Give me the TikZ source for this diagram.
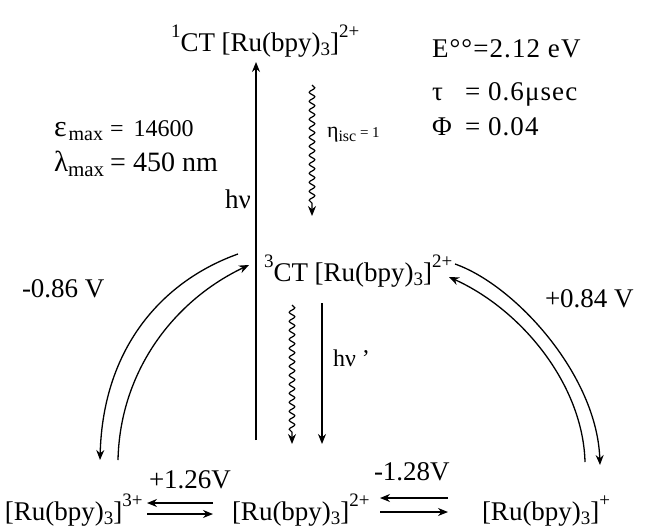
\documentclass[tikz,border=0pt]{standalone}
\usepackage{fontspec}
\setmainfont{Liberation Serif}
\usetikzlibrary{arrows.meta,decorations.pathmorphing}
\newcommand\dnx[1]{\raisebox{-0.4ex}{\fontsize{19}{19}\selectfont #1}}
\newcommand\upx[1]{\raisebox{1.05ex}{\fontsize{19}{19}\selectfont #1}}
\newcommand\subx[2]{\raisebox{-0.45ex}{\fontsize{#1}{#1}\selectfont #2}}
\newcommand\symx[2]{{\fontsize{#1}{#1}\selectfont #2}}
\begin{document}
\begin{tikzpicture}[x=1pt,y=-1pt,
  every node/.style={inner sep=0pt,outer sep=0pt},
  big/.style={font=\fontsize{27}{30}\selectfont,anchor=base west},
  mid/.style={font=\fontsize{27}{28}\selectfont\addfontfeatures{LetterSpace=4},anchor=base west},
  small/.style={font=\fontsize{22}{24}\selectfont,anchor=base west},
  arr/.style={line width=1.3pt,-{Stealth[length=10pt,width=8pt]}},
  wavy/.style={line width=1.2pt,decorate,decoration={snake,amplitude=2.8pt,segment length=9pt,post length=10pt}},
  eqarr/.style={line width=1.3pt,-{Stealth[length=10pt,width=8pt]}}]
\useasboundingbox (0,0) rectangle (647,528);
% labels
\node[big] (s1) at (171,51) {\upx{1}CT [Ru(bpy)\dnx{3}]\upx{2+}};
\node[mid] (E) at (432,57) {E°°=2.12 eV};
\node[mid] (tau) at (432,100) {\makebox[33pt][l]{τ}= 0.6μsec};
\node[mid] (phi) at (432,135) {\makebox[33pt][l]{Φ}= 0.04};
\node[anchor=base west,font=\fontsize{24}{26}\selectfont] (eps) at (54,136) {\symx{30}{ε}\hspace{2pt}\subx{20}{max}\hspace{7pt}=\hspace{10pt}14600};
\node[anchor=base west,font=\fontsize{28}{30}\selectfont] (lam) at (54,171) {\symx{29}{λ}\subx{21}{max}\hspace{6pt}=\hspace{7pt}450 nm};
\node[small] (eta) at (327,137) {η\subx{16}{isc}{\fontsize{15}{15}\selectfont{} = 1}};
\node[big] (hv) at (225,208) {hν};
\node[big] (t3) at (264,281) {\upx{3}CT [Ru(bpy)\dnx{3}]\upx{2+}};
\node[big] (vl) at (22,297) {-0.86 V};
\node[big] (vr) at (545,307) {+0.84 V};
\node[anchor=base west,font=\fontsize{24}{24}\selectfont] (hv2) at (333,366) {hν '};
\node[big] (b1) at (5,520) {[Ru(bpy)\dnx{3}]\upx{3+}};
\node[big] (b2) at (232,520) {[Ru(bpy)\dnx{3}]\upx{2+}};
\node[big] (b3) at (482,520) {[Ru(bpy)\dnx{3}]\upx{+}};
\node[big] (e1) at (149,488) {+1.26V};
\node[big] (e2) at (374,480) {-1.28V};
% coordinates
\coordinate (hvb) at (256,440);
\coordinate (hvt) at (256,62);
\coordinate (w1a) at (312,85);
\coordinate (w1b) at (312,216);
\coordinate (w2a) at (292,305);
\coordinate (w2b) at (292,444);
\coordinate (f2a) at (322,303);
\coordinate (f2b) at (322,444);
\coordinate (lo1) at (238,254);
\coordinate (lo2) at (100,460);
\coordinate (li1) at (118,460);
\coordinate (li2) at (249,265);
\coordinate (ro1) at (455,264);
\coordinate (ro2) at (600,465);
\coordinate (ri1) at (585,462);
\coordinate (ri2) at (449,277);
% vertical arrows
\draw[arr] (hvb) -- (hvt);
\draw[wavy,-{Stealth[length=10pt,width=8pt]}] (w1a) -- (w1b);
\draw[wavy,-{Stealth[length=10pt,width=8pt]}] (w2a) -- (w2b);
\draw[arr] (f2a) -- (f2b);
% curved arrows
\draw[arr] (lo1) .. controls (165,280) and (103,345) .. (lo2);
\draw[arr] (li1) .. controls (120,370) and (175,300) .. (li2);
\draw[arr] (ro1) .. controls (515,285) and (597,375) .. (ro2);
\draw[arr] (ri1) .. controls (583,385) and (522,310) .. (ri2);
% equilibrium arrows
\coordinate (q1a) at (147,503); \coordinate (q1b) at (213,503);
\coordinate (q1c) at (147,514); \coordinate (q1d) at (213,514);
\coordinate (q2a) at (380,498); \coordinate (q2b) at (448,498);
\coordinate (q2c) at (380,512); \coordinate (q2d) at (448,512);
\draw[eqarr] (q1b) -- (q1a);
\draw[eqarr] (q1c) -- (q1d);
\draw[eqarr] (q2b) -- (q2a);
\draw[eqarr] (q2c) -- (q2d);
\end{tikzpicture}
\end{document}
